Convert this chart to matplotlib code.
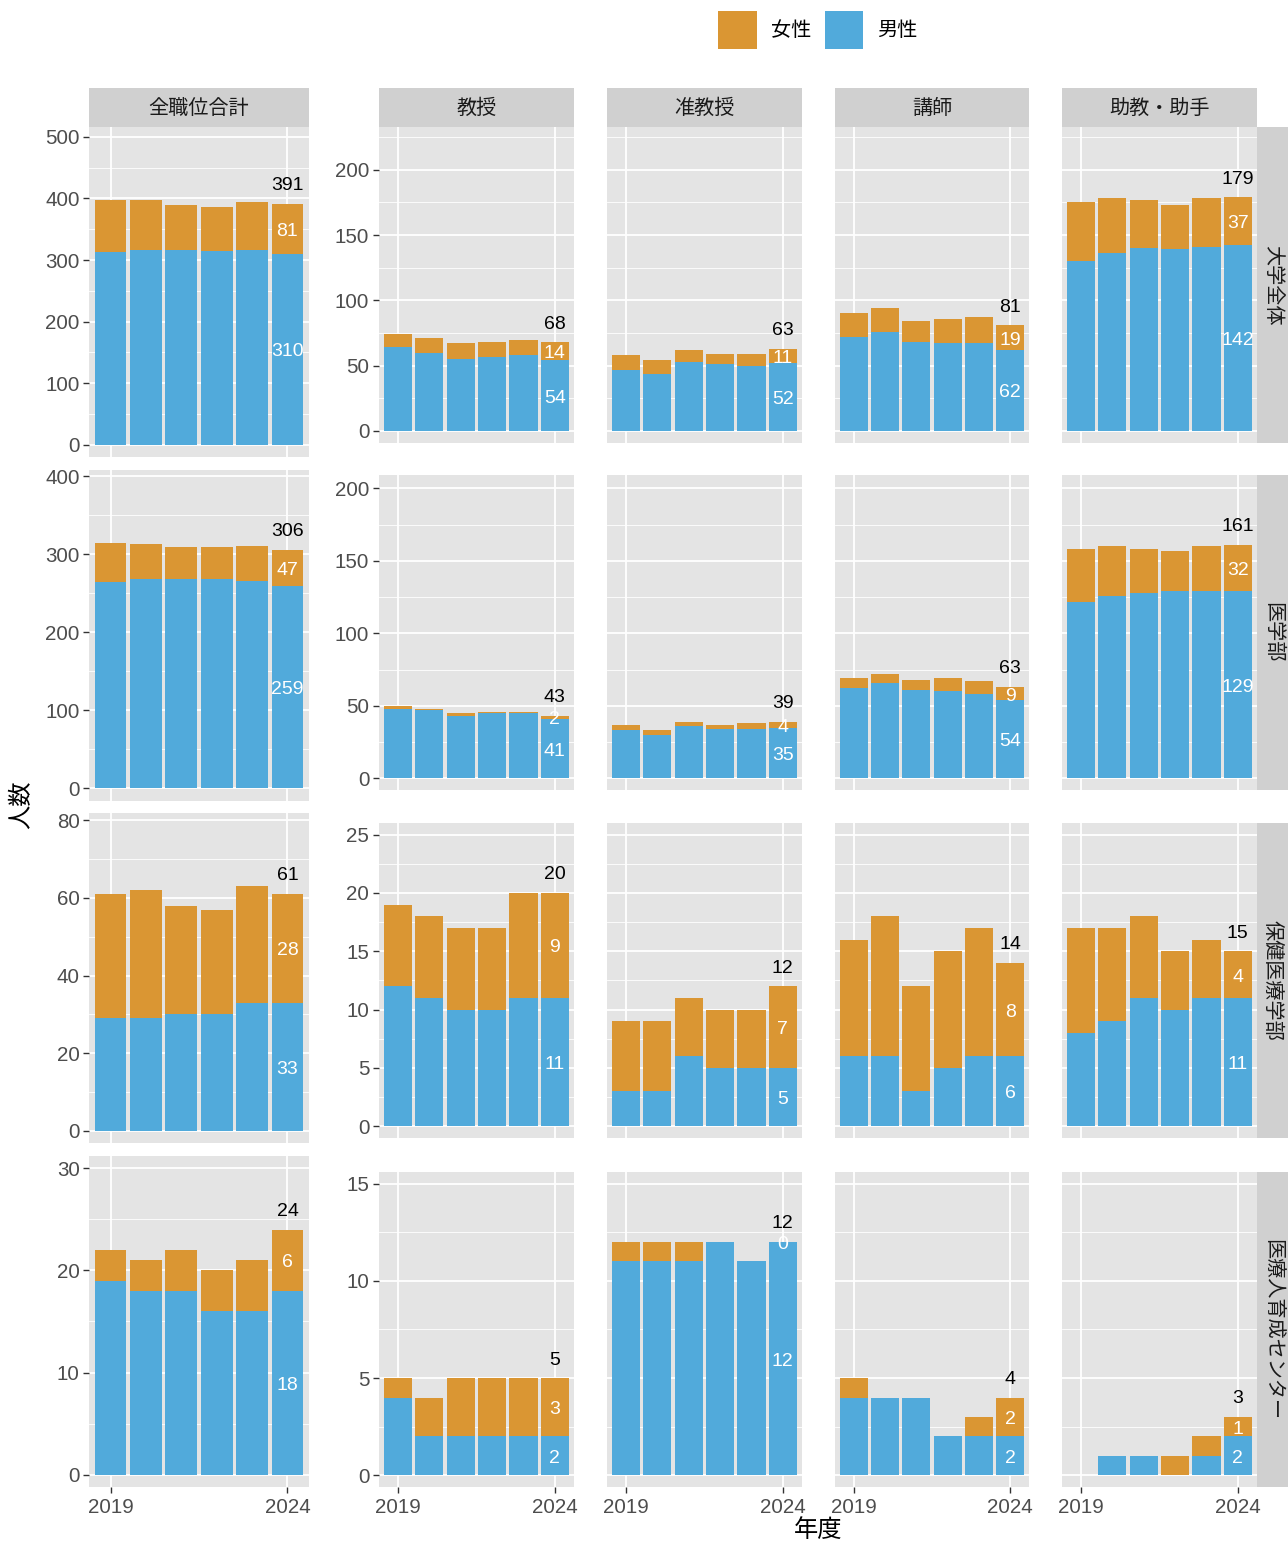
import matplotlib
matplotlib.use('Agg')
import matplotlib.pyplot as plt
from matplotlib.ticker import MultipleLocator, FixedLocator, NullLocator
from matplotlib.patches import Rectangle

plt.rcParams['font.family'] = ['Liberation Sans', 'Noto Sans CJK JP', 'DejaVu Sans']

years = [2019, 2020, 2021, 2022, 2023, 2024]
departments = ['大学全体', '医学部', '保健医療学部', '医療人育成センター']
positions = ['全職位合計', '教授', '准教授', '講師', '助教・助手']
legend_labels = ['女性', '男性']

# 大学全体
univ_all_m = [313, 316, 316, 314, 316, 310]
univ_all_f = [84, 81, 74, 72, 78, 81]
univ_prof_m = [64, 60, 55, 57, 58, 54]
univ_prof_f = [10, 11, 12, 11, 12, 14]
univ_assoc_m = [47, 44, 53, 51, 50, 52]
univ_assoc_f = [11, 10, 9, 8, 9, 11]
univ_lect_m = [72, 76, 68, 67, 67, 62]
univ_lect_f = [18, 18, 16, 19, 20, 19]
univ_asst_m = [130, 136, 140, 139, 141, 142]
univ_asst_f = [45, 42, 37, 34, 37, 37]

# 医学部
med_all_m = [265, 269, 268, 268, 266, 259]
med_all_f = [49, 44, 42, 41, 45, 47]
med_prof_m = [48, 47, 43, 45, 45, 41]
med_prof_f = [2, 1, 2, 1, 1, 2]
med_assoc_m = [33, 30, 36, 34, 34, 35]
med_assoc_f = [4, 3, 3, 3, 4, 4]
med_lect_m = [62, 66, 61, 60, 58, 54]
med_lect_f = [7, 6, 7, 9, 9, 9]
med_asst_m = [122, 126, 128, 129, 129, 129]
med_asst_f = [36, 34, 30, 28, 31, 32]

# 保健医療学部
hs_all_m = [29, 29, 30, 30, 33, 33]
hs_all_f = [32, 33, 28, 27, 30, 28]
hs_prof_m = [12, 11, 10, 10, 11, 11]
hs_prof_f = [7, 7, 7, 7, 9, 9]
hs_assoc_m = [3, 3, 6, 5, 5, 5]
hs_assoc_f = [6, 6, 5, 5, 5, 7]
hs_lect_m = [6, 6, 3, 5, 6, 6]
hs_lect_f = [10, 12, 9, 10, 11, 8]
hs_asst_m = [8, 9, 11, 10, 11, 11]
hs_asst_f = [9, 8, 7, 5, 5, 4]

# 医療人育成センター
ctr_all_m = [19, 18, 18, 16, 16, 18]
ctr_all_f = [3, 3, 4, 4, 5, 6]
ctr_prof_m = [4, 2, 2, 2, 2, 2]
ctr_prof_f = [1, 2, 3, 3, 3, 3]
ctr_assoc_m = [11, 11, 11, 12, 11, 12]
ctr_assoc_f = [1, 1, 1, 0, 0, 0]
ctr_lect_m = [4, 4, 4, 2, 2, 2]
ctr_lect_f = [1, 0, 0, 0, 1, 2]
ctr_asst_m = [0, 1, 1, 0, 1, 2]
ctr_asst_f = [0, 0, 0, 1, 1, 1]

data = {
    '大学全体': [(univ_all_m, univ_all_f), (univ_prof_m, univ_prof_f), (univ_assoc_m, univ_assoc_f),
              (univ_lect_m, univ_lect_f), (univ_asst_m, univ_asst_f)],
    '医学部': [(med_all_m, med_all_f), (med_prof_m, med_prof_f), (med_assoc_m, med_assoc_f),
            (med_lect_m, med_lect_f), (med_asst_m, med_asst_f)],
    '保健医療学部': [(hs_all_m, hs_all_f), (hs_prof_m, hs_prof_f), (hs_assoc_m, hs_assoc_f),
               (hs_lect_m, hs_lect_f), (hs_asst_m, hs_asst_f)],
    '医療人育成センター': [(ctr_all_m, ctr_all_f), (ctr_prof_m, ctr_prof_f), (ctr_assoc_m, ctr_assoc_f),
                  (ctr_lect_m, ctr_lect_f), (ctr_asst_m, ctr_asst_f)],
}

left_steps = [100, 100, 20, 10]
right_steps = [50, 50, 5, 5]

BLUE = '#51AADB'
ORANGE = '#DA9633'
PANEL = '#E4E4E4'
STRIP = '#D0D0D0'
TICKC = '#4D4D4D'

W, H = 1288, 1544
fig = plt.figure(figsize=(W / 100, H / 100), dpi=100)


def rect(x0, y0, x1, y1):
    return [x0 / W, 1 - y1 / H, (x1 - x0) / W, (y1 - y0) / H]


left_x = (89.3, 308.7)
left_rows = [(127, 457), (470, 800.7), (813, 1143), (1156, 1487)]
right_cols = [(379, 573.7), (607, 801.7), (835, 1029), (1062, 1256.7)]
right_rows = [(127, 442.7), (475, 790), (823, 1138), (1172, 1487)]


def style_axis(ax, ymax, step, show_y, show_x):
    ax.set_facecolor(PANEL)
    for s in ax.spines.values():
        s.set_visible(False)
    ax.set_xlim(2018.4, 2024.6)
    ax.set_ylim(-0.0385 * ymax, ymax)
    ax.xaxis.set_major_locator(FixedLocator([2019, 2024]))
    ax.xaxis.set_minor_locator(NullLocator())
    ax.yaxis.set_major_locator(MultipleLocator(step))
    ax.yaxis.set_minor_locator(MultipleLocator(step / 2))
    ax.grid(which='major', color='white', linewidth=1.3, zorder=0)
    ax.grid(which='minor', axis='y', color='white', linewidth=0.6, zorder=0)
    ax.set_axisbelow(True)
    ax.tick_params(which='minor', length=0)
    ax.tick_params(axis='y', which='major', length=4 if show_y else 0, width=1.0, color='#333333',
                   labelsize=14.8, labelcolor=TICKC, pad=3, labelleft=show_y)
    ax.tick_params(axis='x', which='major', length=4 if show_x else 0, width=1.0, color='#333333',
                   labelsize=14.8, labelcolor=TICKC, pad=4, labelbottom=show_x)


def draw_bars(ax, m, f):
    ax.bar(years, m, width=0.9, color=BLUE, zorder=2, linewidth=0)
    ax.bar(years, f, bottom=m, width=0.9, color=ORANGE, zorder=2, linewidth=0)
    x = years[-1]
    mm, ff = m[-1], f[-1]
    ax.annotate(str(mm + ff), (x, mm + ff), xytext=(0, 13.6), textcoords='offset pixels',
                ha='center', va='baseline', fontsize=14, color='black', zorder=5)
    ax.annotate(str(ff), (x, mm + ff / 2), xytext=(0, -7), textcoords='offset pixels',
                ha='center', va='baseline', fontsize=14, color='white', zorder=5)
    ax.annotate(str(mm), (x, mm / 2), xytext=(0, -7), textcoords='offset pixels',
                ha='center', va='baseline', fontsize=14, color='white', zorder=5)


for r, dept in enumerate(departments):
    series = data[dept]
    # left column: 全職位合計
    m, f = series[0]
    ymax = 1.3 * max(a + b for a, b in zip(m, f))
    y0, y1 = left_rows[r]
    ax = fig.add_axes(rect(left_x[0], y0, left_x[1], y1))
    style_axis(ax, ymax, left_steps[r], True, r == 3)
    draw_bars(ax, m, f)

    # right group, shared y per row
    ymax_r = 1.3 * max(a + b for m2, f2 in series[1:] for a, b in zip(m2, f2))
    y0, y1 = right_rows[r]
    for c in range(4):
        m, f = series[c + 1]
        x0, x1 = right_cols[c]
        ax = fig.add_axes(rect(x0, y0, x1, y1))
        style_axis(ax, ymax_r, right_steps[r], c == 0, r == 3)
        draw_bars(ax, m, f)
    # row strip
    sax = fig.add_axes(rect(1256.7, y0, 1288, y1))
    sax.set_facecolor(STRIP)
    sax.set_xticks([]); sax.set_yticks([])
    for s in sax.spines.values():
        s.set_visible(False)
    sax.text(0.5, 0.5, dept, rotation=-90, ha='center', va='center', fontsize=14.5,
             color='#1A1A1A', transform=sax.transAxes)

# column strips
strip_cols = [left_x] + right_cols
for c, pos in enumerate(positions):
    x0, x1 = strip_cols[c]
    sax = fig.add_axes(rect(x0, 88, x1, 127))
    sax.set_facecolor(STRIP)
    sax.set_xticks([]); sax.set_yticks([])
    for s in sax.spines.values():
        s.set_visible(False)
    sax.text(0.5, 0.47, pos, ha='center', va='center', fontsize=14.5, color='#1A1A1A',
             transform=sax.transAxes)

# legend
for (x0, x1), col, lab, tx in [((718, 757), ORANGE, legend_labels[0], 771),
                               ((825, 863), BLUE, legend_labels[1], 877)]:
    fig.patches.append(Rectangle((x0 / W, 1 - 49 / H), (x1 - x0) / W, 38 / H,
                                 transform=fig.transFigure, facecolor=col, edgecolor='none'))
    fig.text(tx / W, 1 - 30 / H, lab, ha='left', va='center', fontsize=14.5, color='black')

# axis titles
fig.text(22 / W, 1 - 805 / H, '人数', rotation=90, ha='center', va='center', fontsize=17.5, color='black')
fig.text(818 / W, 1 - 1531 / H, '年度', ha='center', va='center', fontsize=17.5, color='black')

fig.savefig('out.png', dpi=100)
